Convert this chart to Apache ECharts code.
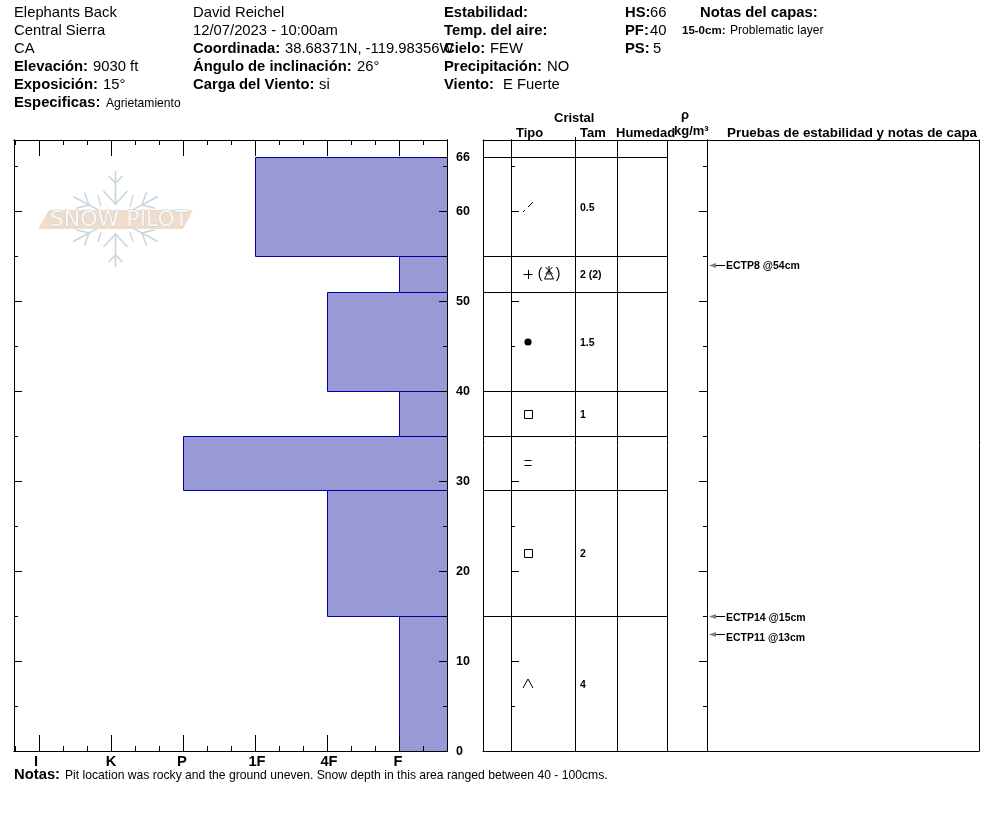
<!DOCTYPE html>
<html><head><meta charset="utf-8">
<style>html,body{margin:0;padding:0;background:#fff}#c{width:994px;height:840px}</style>
<script src="https://cdn.jsdelivr.net/npm/echarts@6/dist/echarts.min.js"></script>
</head><body><div id="c"></div>
<script>
// ---- data ----
const layerTops = [66, 55, 51, 40, 35, 29, 15];
const layerBottoms = [55, 51, 40, 35, 29, 15, 0];
const layerHardness = ['1F', 'F', '4F', 'F', 'P', '4F', 'F'];
const grainTypes = ['fragment', 'plusStar', 'round', 'facet', 'layer', 'facet', 'cup'];
const grainSizes = ['0.5', '2 (2)', '1.5', '1', '', '2', '4'];
const hardnessLabels = ['I', 'K', 'P', '1F', '4F', 'F'];
const hardnessPositions = [1, 4, 7, 10, 13, 16];
const hardnessMinor = [0, 2, 3, 5, 6, 8, 9, 11, 12, 14, 15, 17];
const depthMajor = [0, 10, 20, 30, 40, 50, 60];
const depthMinor = [5, 15, 25, 35, 45, 55, 65];
const depthLabels = [0, 10, 20, 30, 40, 50, 60, 66];
const testDepths = [54, 15, 13];
const testLabels = ['ECTP8 @54cm', 'ECTP14 @15cm', 'ECTP11 @13cm'];
const testLabelShift = [1, 2, 4];

// ---- layout ----
const FONT = '"Liberation Sans", Arial, sans-serif';
const BLACK = '#000';
const plot = { left: 14, top: 140, width: 433, height: 611 };
const table = { left: 483, top: 140, width: 496, height: 611 };
const inner = { left: 511, top: 140, width: 196, height: 611 };
const labelGrid = { left: 14, top: 141, width: 433, height: 611 };
const Y_MAX = 611 / 9;
const tableCols = { tipo: 45, tam: 92, sizeText: 97, hum: 134, rho: 184, tests: 225 };
const labelNudge = [-3 / 24, 0, -1 / 24, 2 / 24, 2 / 24, -1 / 24];
const labelPositions = hardnessPositions.map((v, i) => v + labelNudge[i]);

const T = (x, y, text, bold, size, extra) => ({
  type: 'text', x, y, silent: true, z: 20,
  style: Object.assign({ text, fontFamily: FONT, fontWeight: bold ? 'bold' : 'normal', fontSize: size || 14.8, fill: '#000', verticalAlign: 'middle', align: 'left' }, extra || {})
});

const headerTexts = [
  T(14, 13, 'Elephants Back'), T(14, 31, 'Central Sierra'), T(14, 49, 'CA'),
  T(14, 67, 'Elevación:', 1), T(93, 67, '9030 ft'),
  T(14, 85, 'Exposición:', 1), T(103, 85, '15°'),
  T(14, 103, 'Especificas:', 1), T(106, 104, 'Agrietamiento', 0, 12.1),
  T(193, 13, 'David Reichel'), T(193, 31, '12/07/2023 - 10:00am'),
  T(193, 49, 'Coordinada:', 1), T(285, 49, '38.68371N, -119.98356W'),
  T(193, 67, 'Ángulo de inclinación:', 1), T(357, 67, '26°'),
  T(193, 85, 'Carga del Viento:', 1), T(319, 85, 'si'),
  T(444, 13, 'Estabilidad:', 1), T(444, 31, 'Temp. del aire:', 1),
  T(444, 49, 'Cielo:', 1), T(490, 49, 'FEW'),
  T(444, 67, 'Precipitación:', 1), T(547, 67, 'NO'),
  T(444, 85, 'Viento:', 1), T(503, 85, 'E Fuerte'),
  T(625, 13, 'HS:', 1), T(650, 13, '66'),
  T(625, 31, 'PF:', 1), T(650, 31, '40'),
  T(625, 49, 'PS:', 1), T(653, 49, '5'),
  T(700, 13, 'Notas del capas:', 1),
  T(682, 31, '15-0cm:', 1, 11.5), T(730, 31, 'Problematic layer', 0, 12.1),
  T(554, 118, 'Cristal', 1, 13), T(516, 133, 'Tipo', 1, 13), T(580, 133, 'Tam', 1, 13),
  T(616, 133, 'Humedad', 1, 13), T(681, 115, 'ρ', 1, 13), T(674, 131, 'kg/m³', 1, 13),
  T(727, 133, 'Pruebas de estabilidad y notas de capa', 1, 13.4),
  T(14, 775, 'Notas:', 1), T(65, 776, 'Pit location was rocky and the ground uneven. Snow depth in this area ranged between 40 - 100cms.', 0, 12.15)
];

// Snow Pilot watermark (decoration)
function logo() {
  const out = [];
  const cx = 115.5, cy = 219;
  const seg = (a, r1, s1, r2, s2) => {
    const rad = a * Math.PI / 180, c = Math.cos(rad), s = Math.sin(rad);
    const p = (r, t) => [cx + s * r + c * t, cy - c * r + s * t];
    const A = p(r1, s1), B = p(r2, s2);
    out.push({ type: 'line', silent: true, z: 3, shape: { x1: A[0], y1: A[1], x2: B[0], y2: B[1] }, style: { stroke: '#c9d6de', lineWidth: 1.6 } });
  };
  [0, 62, 118, 180, 242, 298].forEach(a => {
    const vertical = a === 0 || a === 180;
    seg(a, vertical ? 14 : 20, 0, 48, 0);
    if (vertical) { seg(a, 36, 0, 43, 7); seg(a, 36, 0, 43, -7); seg(a, 15, 0, 28, 12); seg(a, 15, 0, 28, -12); }
    else { seg(a, 30, 0, 40, 9); seg(a, 30, 0, 40, -9); }
  });
  [[98, 195, 101, 207], [133, 195, 130, 207], [98, 242, 101, 232], [133, 242, 130, 232]].forEach(l => {
    out.push({ type: 'line', silent: true, z: 3, shape: { x1: l[0], y1: l[1], x2: l[2], y2: l[3] }, style: { stroke: '#c9d6de', lineWidth: 1.3 } });
  });
  out.push({ type: 'polygon', silent: true, z: 4, shape: { points: [[38, 229], [49, 210], [193, 210], [183, 229]] }, style: { fill: '#efdccb' } });
  out.push({ type: 'text', x: 119, y: 220, silent: true, z: 5, style: { text: 'SNOW PILOT', fontFamily: '"DejaVu Sans"', fontSize: 22, fill: '#fbf8f4', stroke: '#bfcbd2', lineWidth: 0.8, align: 'center', verticalAlign: 'middle' } });
  return out;
}

// ---- helpers for axes ----
const tickX = (gridIndex, position, values, length, labels) => ({
  type: 'value', gridIndex, position, min: -1 / 24, max: 18, z: 6,
  axisLine: { show: true, onZero: false, lineStyle: { color: BLACK, width: 1 } },
  axisTick: { show: true, inside: true, length, customValues: values, lineStyle: { color: BLACK, width: 1 } },
  splitLine: { show: false },
  axisLabel: labels ? { show: true, customValues: labelPositions, margin: 3, fontFamily: FONT, fontWeight: 'bold', fontSize: 14.7, color: BLACK, formatter: v => labels[labelPositions.indexOf(v)] } : { show: false }
});
const tickY = (gridIndex, position, values, length) => ({
  type: 'value', gridIndex, position, min: 0, max: Y_MAX, z: 6,
  axisLine: { show: true, onZero: false, lineStyle: { color: BLACK, width: 1 } },
  axisTick: { show: true, inside: true, length, customValues: values, lineStyle: { color: BLACK, width: 1 } },
  splitLine: { show: false },
  axisLabel: { show: false }
});
const labelY = (gridIndex, labels) => ({
  type: 'value', gridIndex, position: 'right', min: 0, max: Y_MAX, z: 6,
  axisLine: { show: false, onZero: false }, axisTick: { show: false }, splitLine: { show: false },
  axisLabel: { show: true, customValues: labels, margin: 9, fontFamily: FONT, fontWeight: 'bold', fontSize: 12.5, color: BLACK, showMinLabel: true, showMaxLabel: true }
});
const tableX = (gridIndex, position, max, show) => ({
  type: 'value', gridIndex, position, min: 0, max, show,
  axisLine: { show: true, onZero: false, lineStyle: { color: BLACK } }, axisTick: { show: false }, axisLabel: { show: false }, splitLine: { show: false }
});

const xAxis = [
  tickX(0, 'bottom', hardnessPositions, 16, hardnessLabels),  // 0
  tickX(0, 'bottom', hardnessMinor, 5),                       // 1
  tickX(0, 'top', hardnessPositions, 16),                     // 2
  tickX(0, 'top', hardnessMinor, 5),                          // 3
  tableX(1, 'bottom', table.width, true),                     // 4
  tableX(1, 'top', table.width, true),                        // 5
  tableX(2, 'bottom', inner.width, false),                    // 6
  tableX(3, 'bottom', 18, false)                              // 7
];
const yAxis = [
  tickY(0, 'left', depthMajor, 8),                            // 0
  tickY(0, 'left', depthMinor, 4),                            // 1
  tickY(0, 'right', depthLabels, 8),                          // 2
  tickY(0, 'right', depthMinor, 4),                           // 3
  tickY(1, 'left', [], 0),                                    // 4
  tickY(1, 'right', [], 0),                                   // 5
  tickY(2, 'left', depthMajor, 8),                            // 6
  tickY(2, 'left', depthMinor, 4),                            // 7
  tickY(2, 'right', depthMajor, 8),                           // 8
  tickY(2, 'right', depthMinor, 4),                           // 9
  labelY(3, depthLabels)                                      // 10
];

const px = v => Math.round(v) + 0.5;
const ln = (x1, y1, x2, y2, stroke, w) => ({ type: 'line', shape: { x1, y1, x2, y2 }, style: { stroke: stroke || BLACK, lineWidth: w || 1 } });

// Crystal glyphs, centred on c
function glyph(kind, c) {
  const x = c[0], y = c[1];
  const stroke = { stroke: BLACK, lineWidth: 1, fill: 'none' };
  switch (kind) {
    case 'fragment': return [ln(x - 5, y + 5, x - 3, y + 3), ln(x, y, x + 5, y - 5)];
    case 'round': return [{ type: 'circle', shape: { cx: x, cy: y, r: 3.6 }, style: { fill: BLACK } }];
    case 'facet': return [{ type: 'rect', shape: { x: px(x - 4), y: px(y - 4), width: 8, height: 8 }, style: stroke }];
    case 'layer': return [ln(x - 3.5, px(y - 3), x + 3.5, px(y - 3)), ln(x - 3.5, px(y + 2), x + 3.5, px(y + 2))];
    case 'cup': return [{ type: 'polyline', shape: { points: [[x - 5, y + 4], [x, y - 5], [x + 5, y + 4]] }, style: stroke }];
    case 'plusStar': return [
      ln(x - 4.5, y + 0.5, x + 4.5, y + 0.5), ln(x + 0.5, y - 4, x + 0.5, y + 5),
      { type: 'text', style: { text: '(', x: x + 12, y: y, fontFamily: FONT, fontSize: 14, verticalAlign: 'middle', align: 'center', fill: BLACK } },
      { type: 'text', style: { text: ')', x: x + 30, y: y, fontFamily: FONT, fontSize: 14, verticalAlign: 'middle', align: 'center', fill: BLACK } },
      { type: 'polygon', shape: { points: [[x + 21, y - 4], [x + 25.5, y + 5], [x + 16.5, y + 5]] }, style: stroke },
      ln(x + 17.5, y - 7, x + 24.5, y), ln(x + 24.5, y - 7, x + 17.5, y), ln(x + 21, y - 8, x + 21, y + 1)
    ];
  }
  return [];
}

const layerRows = layerTops.map((t, i) => [t, layerBottoms[i], hardnessPositions[hardnessLabels.indexOf(layerHardness[i])], grainTypes[i], grainSizes[i]]);

const series = [
  { // hand hardness bars
    type: 'custom', xAxisIndex: 0, yAxisIndex: 0, z: 1, clip: false, silent: true,
    data: layerRows.map(r => [r[2], r[0], r[1]]),
    encode: { x: 0, y: [1, 2] },
    renderItem(p, api) {
      const a = api.coord([api.value(0), api.value(1)]);
      const b = api.coord([18, api.value(2)]);
      const x1 = px(a[0]), y1 = px(a[1]), x2 = px(b[0]), y2 = px(b[1]);
      const children = [
        { type: 'rect', shape: { x: x1, y: y1, width: x2 - x1, height: y2 - y1 }, style: { fill: '#9999d5' } },
        ln(x1, y1, x2, y1, '#0000aa'), ln(x1, y1, x1, y2, '#0000aa')
      ];
      if (api.value(2) > 0) children.push(ln(x1, y2, x2, y2, '#0000aa'));
      return { type: 'group', children };
    }
  },
  { // table rows, crystal glyphs and sizes
    type: 'custom', xAxisIndex: 4, yAxisIndex: 4, z: 3, clip: false, silent: true,
    data: layerRows.map(r => [0, r[0], r[1]]),
    encode: { x: 0, y: [1, 2] },
    renderItem(p, api) {
      const top = api.coord([0, api.value(1)])[1];
      const bot = api.coord([0, api.value(2)])[1];
      const mid = (top + bot) / 2;
      const children = [ln(table.left, px(top), table.left + tableCols.rho, px(top))];
      const row = layerRows[p.dataIndex];
      children.push(...glyph(row[3], [api.coord([tableCols.tipo, 0])[0], Math.round(mid)]));
      if (row[4]) children.push({ type: 'text', style: { text: row[4], x: api.coord([tableCols.sizeText, 0])[0], y: Math.round(mid) + 1, fontFamily: FONT, fontWeight: 'bold', fontSize: 10.5, fill: BLACK, verticalAlign: 'middle', align: 'left' } });
      return { type: 'group', children };
    }
  },
  { // table column lines
    type: 'custom', xAxisIndex: 4, yAxisIndex: 4, z: 3, clip: false, silent: true,
    data: [[tableCols.tam], [tableCols.hum], [tableCols.rho]],
    encode: { x: 0 },
    renderItem(p, api) {
      const a = api.coord([api.value(0), 0]), b = api.coord([api.value(0), Y_MAX]);
      return ln(px(a[0]), a[1], px(a[0]), b[1]);
    }
  },
  { // stability tests
    type: 'custom', xAxisIndex: 4, yAxisIndex: 4, z: 4, clip: false, silent: true,
    data: testDepths.map((d, i) => [tableCols.tests, d, i]),
    encode: { x: 0, y: 1 },
    renderItem(p, api) {
      const c = api.coord([api.value(0), api.value(1)]);
      const x = c[0], y = Math.round(c[1]) + 0.5;
      return { type: 'group', children: [
        ln(x + 8, y, x + 17, y),
        { type: 'polygon', shape: { points: [[x + 1, y], [x + 8, y - 2.5], [x + 8, y + 2.5]] }, style: { fill: '#808080' } },
        { type: 'text', style: { text: testLabels[p.dataIndex], x: x + 18, y: y + testLabelShift[p.dataIndex], fontFamily: FONT, fontWeight: 'bold', fontSize: 10.5, fill: BLACK, verticalAlign: 'middle', align: 'left' } }
      ] };
    }
  }
];

const chart = echarts.init(document.getElementById('c'), null, { renderer: 'canvas' });
chart.setOption({
  animation: false,
  backgroundColor: '#fff',
  grid: [plot, table, inner, labelGrid].map(g => Object.assign({ containLabel: false }, g)),
  xAxis, yAxis, series,
  graphic: { elements: headerTexts.concat(logo(), [
    { type: 'line', silent: true, z: 7, shape: { x1: 575.5, y1: 137, x2: 575.5, y2: 140 }, style: { stroke: BLACK, lineWidth: 1 } }
  ]) }
});
</script></body></html>
